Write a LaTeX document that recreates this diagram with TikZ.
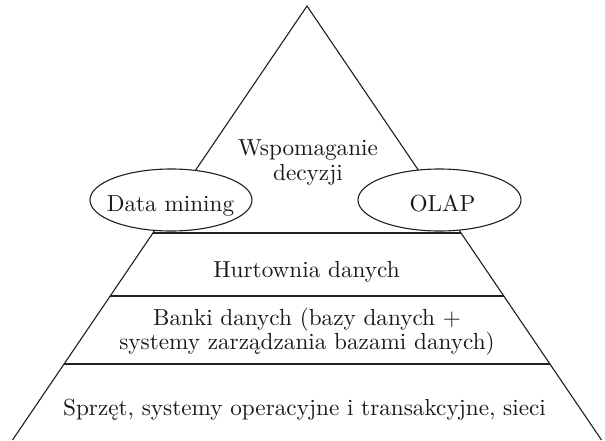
\documentclass[tikz,border=0pt]{standalone}
\usepackage{fontspec}
\setmainfont{lmroman10-regular.otf}
\usetikzlibrary{calc,shapes.geometric}
\begin{document}
\begin{tikzpicture}[x=1pt,y=-1pt,
  edge/.style={line width=1.1pt, draw=black!88},
  bubble/.style={ellipse, draw=black!88, line width=1.1pt, fill=white, inner sep=0pt},
  lbl/.style={font=\fontsize{23.2pt}{25.5pt}\selectfont, text=black!90, inner sep=0pt, anchor=base}]
\useasboundingbox (0,0) rectangle (605,440);
% pyramid outline
\coordinate (apex) at (307,6);
\coordinate (bl) at (12.5,440);
\coordinate (br) at (601.5,440);
\draw[edge] (bl) -- (apex) -- (br);
% layer boundaries
\coordinate (l1) at ($(apex)!0.5230!(bl)$);
\coordinate (r1) at ($(apex)!0.5230!(br)$);
\coordinate (l2) at ($(apex)!0.6682!(bl)$);
\coordinate (r2) at ($(apex)!0.6682!(br)$);
\coordinate (l3) at ($(apex)!0.8249!(bl)$);
\coordinate (r3) at ($(apex)!0.8249!(br)$);
\draw[edge] (l1) -- (r1);
\draw[edge] (l2) -- (r2);
\draw[edge] (l3) -- (r3);
% tools at the top layer
\node[bubble, minimum width=162pt, minimum height=62pt] (dm) at (171,200) {};
\node[bubble, minimum width=163pt, minimum height=62pt] (olap) at (439.5,200) {};
\node[lbl] (dmt) at (170.5,211.5) {Data mining};
\node[lbl] (olapt) at (442.5,211) {OLAP};
% layer labels
\node[lbl] (wsp1) at (308,155) {Wspomaganie};
\node[lbl] (wsp2) at (308,180.5) {decyzji};
\node[lbl] (hurt) at (306.5,277.3) {Hurtownia danych};
\node[lbl] (bank1) at (307,325) {Banki danych (bazy danych +};
\node[lbl] (bank2) at (307,349.5) {systemy zarządzania bazami danych)};
\node[lbl] (hw) at (304.5,415) {Sprzęt, systemy operacyjne i transakcyjne, sieci};
\end{tikzpicture}
\end{document}
